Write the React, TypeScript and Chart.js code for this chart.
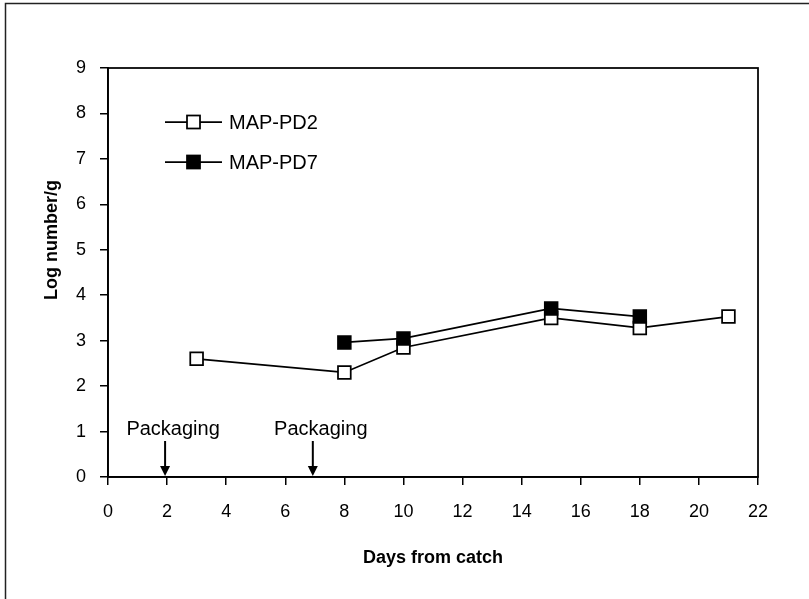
import React, { useEffect, useRef } from "react";
import { Chart, registerables } from "chart.js";

Chart.register(...registerables);

// ---- data ----
const seriesNames = ["MAP-PD2", "MAP-PD7"];
const pd2Days = [3, 8, 10, 15, 18, 21];
const pd2Values = [2.6, 2.3, 2.85, 3.5, 3.28, 3.53];
const pd7Days = [8, 10, 15, 18];
const pd7Values = [2.96, 3.05, 3.71, 3.53];
const xMin = 0;
const xMax = 22;
const xStep = 2;
const yMin = 0;
const yMax = 9;
const yStep = 1;
const packagingDays = [2, 7];
const packagingLabel = "Packaging";
const xTitle = "Days from catch";
const yTitle = "Log number/g";

const FONT = "'Liberation Sans', Arial, Helvetica, sans-serif";
const W = 809;
const H = 599;

const decorPlugin = {
  id: "decor",
  beforeDraw(chart: any) {
    const { ctx } = chart;
    ctx.save();
    ctx.fillStyle = "#ffffff";
    ctx.fillRect(0, 0, chart.width, chart.height);
    ctx.strokeStyle = "#222222";
    ctx.lineWidth = 1.5;
    ctx.beginPath();
    ctx.moveTo(5.5, chart.height);
    ctx.lineTo(5.5, 3.5);
    ctx.lineTo(chart.width, 3.5);
    ctx.stroke();
    ctx.restore();
  },
  afterDatasetsDraw(chart: any) {
    const { ctx, chartArea: a, scales } = chart;
    ctx.save();
    // plot frame
    ctx.strokeStyle = "#000";
    ctx.lineWidth = 1.75;
    ctx.strokeRect(a.left, a.top, a.right - a.left, a.bottom - a.top);

    // packaging arrows
    ctx.fillStyle = "#000";
    ctx.font = `20px ${FONT}`;
    ctx.textAlign = "center";
    ctx.textBaseline = "middle";
    packagingDays.forEach((d) => {
      const px = scales.x.getPixelForValue(d) - 2;
      const yb = a.bottom - 1;
      const yt = yb - 35;
      ctx.lineWidth = 2;
      ctx.beginPath();
      ctx.moveTo(px, yt);
      ctx.lineTo(px, yb - 8);
      ctx.stroke();
      ctx.beginPath();
      ctx.moveTo(px - 5, yb - 10);
      ctx.lineTo(px + 5, yb - 10);
      ctx.lineTo(px, yb);
      ctx.closePath();
      ctx.fill();
      ctx.fillText(packagingLabel, px + 8, a.bottom - 48);
    });

    // legend
    const items = [
      { name: seriesNames[0], fill: "#ffffff" },
      { name: seriesNames[1], fill: "#000000" },
    ];
    items.forEach((it, i) => {
      const y = a.top + 54 + i * 40;
      const x0 = a.left + 57;
      const x1 = a.left + 114;
      const xm = (x0 + x1) / 2;
      ctx.strokeStyle = "#000";
      ctx.lineWidth = 1.75;
      ctx.beginPath();
      ctx.moveTo(x0, y);
      ctx.lineTo(x1, y);
      ctx.stroke();
      ctx.fillStyle = it.fill;
      ctx.fillRect(xm - 6.5, y - 6.5, 13, 13);
      ctx.strokeRect(xm - 6.5, y - 6.5, 13, 13);
      ctx.fillStyle = "#000";
      ctx.font = `20px ${FONT}`;
      ctx.textAlign = "left";
      ctx.textBaseline = "middle";
      ctx.fillText(it.name, x1 + 7, y + 1);
    });

    // axis titles
    ctx.font = `bold 18px ${FONT}`;
    ctx.textAlign = "center";
    ctx.textBaseline = "middle";
    ctx.fillText(xTitle, (a.left + a.right) / 2, 558);
    ctx.translate(52, 240);
    ctx.rotate(-Math.PI / 2);
    ctx.fillText(yTitle, 0, 0);
    ctx.restore();
  },
};

export default function App() {
  const ref = useRef<HTMLCanvasElement | null>(null);

  useEffect(() => {
    if (!ref.current) return;
    const chart = new Chart(ref.current, {
      type: "line",
      data: {
        datasets: [
          {
            label: seriesNames[0],
            data: pd2Days.map((d, i) => ({ x: d, y: pd2Values[i] })),
            borderColor: "#000",
            borderWidth: 1.75,
            pointStyle: "rect",
            pointRadius: 9,
            pointHoverRadius: 9,
            pointBackgroundColor: "#fff",
            pointBorderColor: "#000",
            pointBorderWidth: 1.75,
            order: 1,
          },
          {
            label: seriesNames[1],
            data: pd7Days.map((d, i) => ({ x: d, y: pd7Values[i] })),
            borderColor: "#000",
            borderWidth: 1.75,
            pointStyle: "rect",
            pointRadius: 9,
            pointHoverRadius: 9,
            pointBackgroundColor: "#000",
            pointBorderColor: "#000",
            pointBorderWidth: 1.75,
            order: 0,
          },
        ],
      },
      options: {
        responsive: false,
        animation: false,
        devicePixelRatio: 1,
        layout: { padding: { left: 0, top: 68, right: 51, bottom: 0 } },
        plugins: {
          legend: { display: false },
          tooltip: { enabled: false },
        },
        scales: {
          x: {
            type: "linear",
            min: xMin,
            max: xMax,
            ticks: {
              stepSize: xStep,
              color: "#000",
              font: { family: FONT, size: 18 },
              padding: 16,
              maxRotation: 0,
            },
            grid: {
              drawOnChartArea: false,
              drawTicks: true,
              tickLength: 8,
              color: "#000",
              lineWidth: 1.5,
            },
            border: { display: true, color: "#000", width: 1.75 },
            afterFit: (s: any) => {
              s.height = 122;
            },
          },
          y: {
            type: "linear",
            min: yMin,
            max: yMax,
            ticks: {
              stepSize: yStep,
              color: "#000",
              font: { family: FONT, size: 18 },
              padding: 14,
            },
            grid: {
              drawOnChartArea: false,
              drawTicks: true,
              tickLength: 8,
              color: "#000",
              lineWidth: 1.5,
            },
            border: { display: true, color: "#000", width: 1.75 },
            afterFit: (s: any) => {
              s.width = 108;
            },
          },
        },
      },
      plugins: [decorPlugin],
    });
    return () => chart.destroy();
  }, []);

  return (
    <div style={{ position: "absolute", left: 0, top: 0, width: W, height: H }}>
      <canvas ref={ref} width={W} height={H} style={{ width: W, height: H, display: "block" }} />
    </div>
  );
}
